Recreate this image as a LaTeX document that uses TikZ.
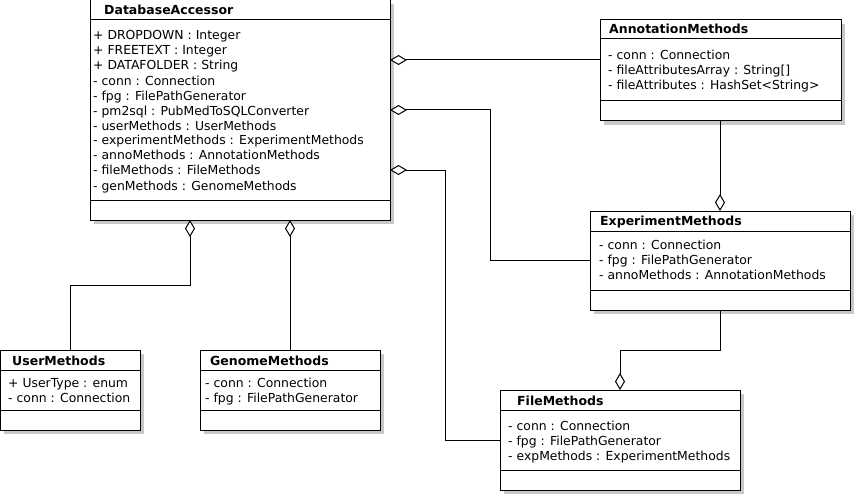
\documentclass[tikz,border=0pt]{standalone}
\usepackage{fontspec}
\setmainfont{DejaVu Sans}
\usetikzlibrary{arrows.meta,calc}
\definecolor{shadowgray}{RGB}{200,200,200}
\tikzset{
  cls/.style={draw, fill=white, line width=1pt, anchor=north west, inner sep=0pt, outer sep=0pt},
  shadowbox/.style={fill=shadowgray, draw=none},
  sepline/.style={line width=1pt},
  ctitle/.style={anchor=base west, font=\bfseries\fontsize{12.5}{15}\selectfont, inner sep=0pt},
  cattr/.style={anchor=base west, font=\fontsize{12.4}{15}\selectfont, inner sep=0pt},
  agg/.style={line width=1pt, {Diamond[open, fill=white, length=17pt, width=10pt, line width=1pt]}-},
}
\begin{document}
\begin{tikzpicture}[x=1pt, y=-1pt]
\useasboundingbox[fill=white] (0,0) rectangle (855,495);

% ---------- DatabaseAccessor ----------
\fill[shadowbox] (94,4) rectangle (394,224);
\node[cls, minimum width=300pt, minimum height=220pt] (db) at (90,0) {};
\draw[sepline] (90,20) -- (390,20);
\draw[sepline] (90,200) -- (390,200);
\node[ctitle] (dbt) at (104,15) {DatabaseAccessor};
\node[cattr] (dba1) at (93,40) {+ DROPDOWN : Integer};
\node[cattr] (dba2) at (93,55) {+ FREETEXT : Integer};
\node[cattr] (dba3) at (93,70) {+ DATAFOLDER : String};
\node[cattr] (dba4) at (93,85) {- conn : Connection};
\node[cattr] (dba5) at (93,100) {- fpg : FilePathGenerator};
\node[cattr] (dba6) at (93,115) {- pm2sql : PubMedToSQLConverter};
\node[cattr] (dba7) at (93,130) {- userMethods : UserMethods};
\node[cattr] (dba8) at (93,145) {- experimentMethods : ExperimentMethods};
\node[cattr] (dba9) at (93,160) {- annoMethods : AnnotationMethods};
\node[cattr] (dba10) at (93,175) {- fileMethods : FileMethods};
\node[cattr] (dba11) at (93,190) {- genMethods : GenomeMethods};

% ---------- AnnotationMethods ----------
\fill[shadowbox] (604,24) rectangle (845,125);
\node[cls, minimum width=241pt, minimum height=101pt] (anno) at (600,20) {};
\draw[sepline] (600,39) -- (841,39);
\draw[sepline] (600,101) -- (841,101);
\node[ctitle] (annot) at (609,34) {AnnotationMethods};
\node[cattr] (annoa1) at (608,60) {- conn : Connection};
\node[cattr] (annoa2) at (608,75) {- fileAttributesArray : String[]};
\node[cattr] (annoa3) at (608,90) {- fileAttributes : HashSet<String>};

% ---------- ExperimentMethods ----------
\fill[shadowbox] (594,215) rectangle (854,314);
\node[cls, minimum width=260pt, minimum height=99pt] (exp) at (590,211) {};
\draw[sepline] (590,231) -- (850,231);
\draw[sepline] (590,290) -- (850,290);
\node[ctitle] (expt) at (600,225) {ExperimentMethods};
\node[cattr] (expa1) at (599,249) {- conn : Connection};
\node[cattr] (expa2) at (599,264) {- fpg : FilePathGenerator};
\node[cattr] (expa3) at (599,279) {- annoMethods : AnnotationMethods};

% ---------- UserMethods ----------
\fill[shadowbox] (4,354) rectangle (144,434);
\node[cls, minimum width=140pt, minimum height=80pt] (user) at (0,350) {};
\draw[sepline] (0,370) -- (140,370);
\draw[sepline] (0,410) -- (140,410);
\node[ctitle] (usert) at (12,365) {UserMethods};
\node[cattr] (usera1) at (8,387) {+ UserType : enum};
\node[cattr] (usera2) at (8,402) {- conn : Connection};

% ---------- GenomeMethods ----------
\fill[shadowbox] (204,354) rectangle (384,434);
\node[cls, minimum width=180pt, minimum height=80pt] (gen) at (200,350) {};
\draw[sepline] (200,370) -- (380,370);
\draw[sepline] (200,410) -- (380,410);
\node[ctitle] (gent) at (210,365) {GenomeMethods};
\node[cattr] (gena1) at (205,387) {- conn : Connection};
\node[cattr] (gena2) at (205,402) {- fpg : FilePathGenerator};

% ---------- FileMethods ----------
\fill[shadowbox] (504,394) rectangle (744,494);
\node[cls, minimum width=240pt, minimum height=100pt] (file) at (500,390) {};
\draw[sepline] (500,410) -- (740,410);
\draw[sepline] (500,470) -- (740,470);
\node[ctitle] (filet) at (517,405) {FileMethods};
\node[cattr] (filea1) at (508,430) {- conn : Connection};
\node[cattr] (filea2) at (508,445) {- fpg : FilePathGenerator};
\node[cattr] (filea3) at (508,460) {- expMethods : ExperimentMethods};

% ---------- connectors ----------
\draw[agg] (db.north east |- 0,60) -- (anno.west |- 0,60);
\draw[agg] (db.north east |- 0,110) -| (490,260) -- (exp.west |- 0,260);
\draw[agg] (db.north east |- 0,170) -| (445,440) -- (file.west |- 0,440);
\draw[agg] (db.south west -| 190,0) -- (190,285) -| (user.north west -| 70,0);
\draw[agg] (db.south west -| 290,0) -- (gen.north west -| 290,0);
\draw[agg] (exp.north west -| 720,0) -- (anno.south west -| 720,0);
\draw[agg] (file.north west -| 620,0) -- (620,350) -| (exp.south west -| 720,0);
\end{tikzpicture}
\end{document}
